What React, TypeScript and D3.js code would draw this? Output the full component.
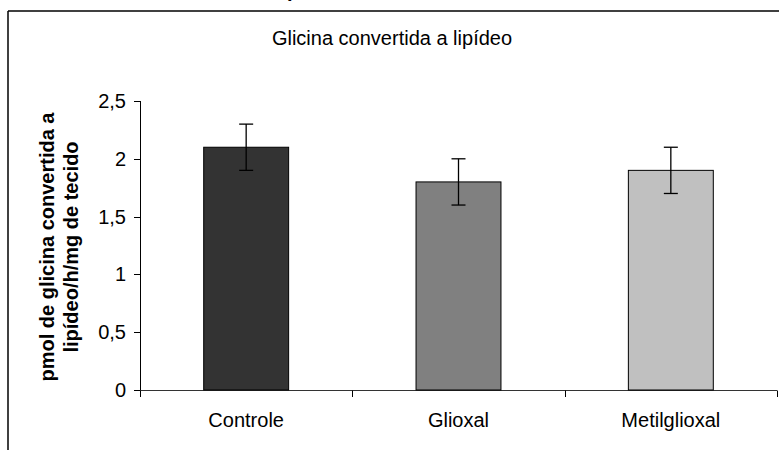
import React from 'react';
import * as d3 from 'd3';

const categories = ['Controle', 'Glioxal', 'Metilglioxal'];
const means = [2.1, 1.8, 1.9];
const errors = [0.2, 0.2, 0.2];
const barColors = ['#333333', '#808080', '#c0c0c0'];
const yTicks = [0, 0.5, 1, 1.5, 2, 2.5];

const W = 779;
const H = 450;
const font = 'Liberation Sans, Arial, sans-serif';

export default function App() {
  const x = d3.scaleBand<string>().domain(categories).range([140, 777]).paddingInner(0.6).paddingOuter(0.3);
  const band = d3.scaleBand<string>().domain(categories).range([140, 777]);
  const y = d3.scaleLinear().domain([0, 2.5]).range([390, 101]);
  const fmt = (v: number) => String(v).replace('.', ',');

  return (
    <svg width={W} height={H} style={{position: 'absolute', left: 0, top: 0, background: '#fff'}} fontFamily={font}>
      {/* cut-off main title above the frame */}
      <text x={287} y={-3} fontSize={20} fontWeight="bold">p</text>
      <line x1={8} x2={W} y1={11} y2={11} stroke="#000" strokeWidth={1.5}/>
      <line x1={8} x2={8} y1={11} y2={H} stroke="#000" strokeWidth={1.5}/>

      <text x={392} y={45} fontSize={20} textAnchor="middle">Glicina convertida a lipídeo</text>

      {/* y axis */}
      <line x1={140.5} x2={140.5} y1={y(2.5)} y2={y(0)} stroke="#000"/>
      {yTicks.map(t => (
        <g key={t}>
          <line x1={134} x2={140.5} y1={Math.round(y(t)) + 0.5} y2={Math.round(y(t)) + 0.5} stroke="#000"/>
          <text x={126} y={y(t) + 7} fontSize={20} textAnchor="end">{fmt(t)}</text>
        </g>
      ))}

      {/* x axis */}
      <line x1={140} x2={777} y1={390.5} y2={390.5} stroke="#333"/>
      {[...categories.map(c => band(c)!), 777].map((v, i) => (
        <line key={i} x1={Math.round(v) + 0.5} x2={Math.round(v) + 0.5} y1={390.5} y2={397} stroke="#000"/>
      ))}

      {categories.map((c, i) => {
        const cx = x(c)! + x.bandwidth() / 2;
        return (
          <g key={c}>
            <rect x={x(c)!} y={y(means[i])} width={x.bandwidth()} height={y(0) - y(means[i])}
                  fill={barColors[i]} stroke="#000" strokeWidth={1}/>
            <line x1={cx} x2={cx} y1={y(means[i] + errors[i])} y2={y(means[i] - errors[i])} stroke="#000" strokeWidth={1.3}/>
            <line x1={cx - 7} x2={cx + 7} y1={y(means[i] + errors[i])} y2={y(means[i] + errors[i])} stroke="#000" strokeWidth={1.3}/>
            <line x1={cx - 7} x2={cx + 7} y1={y(means[i] - errors[i])} y2={y(means[i] - errors[i])} stroke="#000" strokeWidth={1.3}/>
            <text x={band(c)! + band.bandwidth() / 2} y={427} fontSize={20} textAnchor="middle">{c}</text>
          </g>
        );
      })}

      <g transform="translate(0,247) rotate(-90)" fontSize={20} fontWeight="bold" textAnchor="middle">
        <text x={0} y={54}>pmol de glicina convertida a</text>
        <text x={0} y={78}>lipídeo/h/mg de tecido</text>
      </g>
    </svg>
  );
}
